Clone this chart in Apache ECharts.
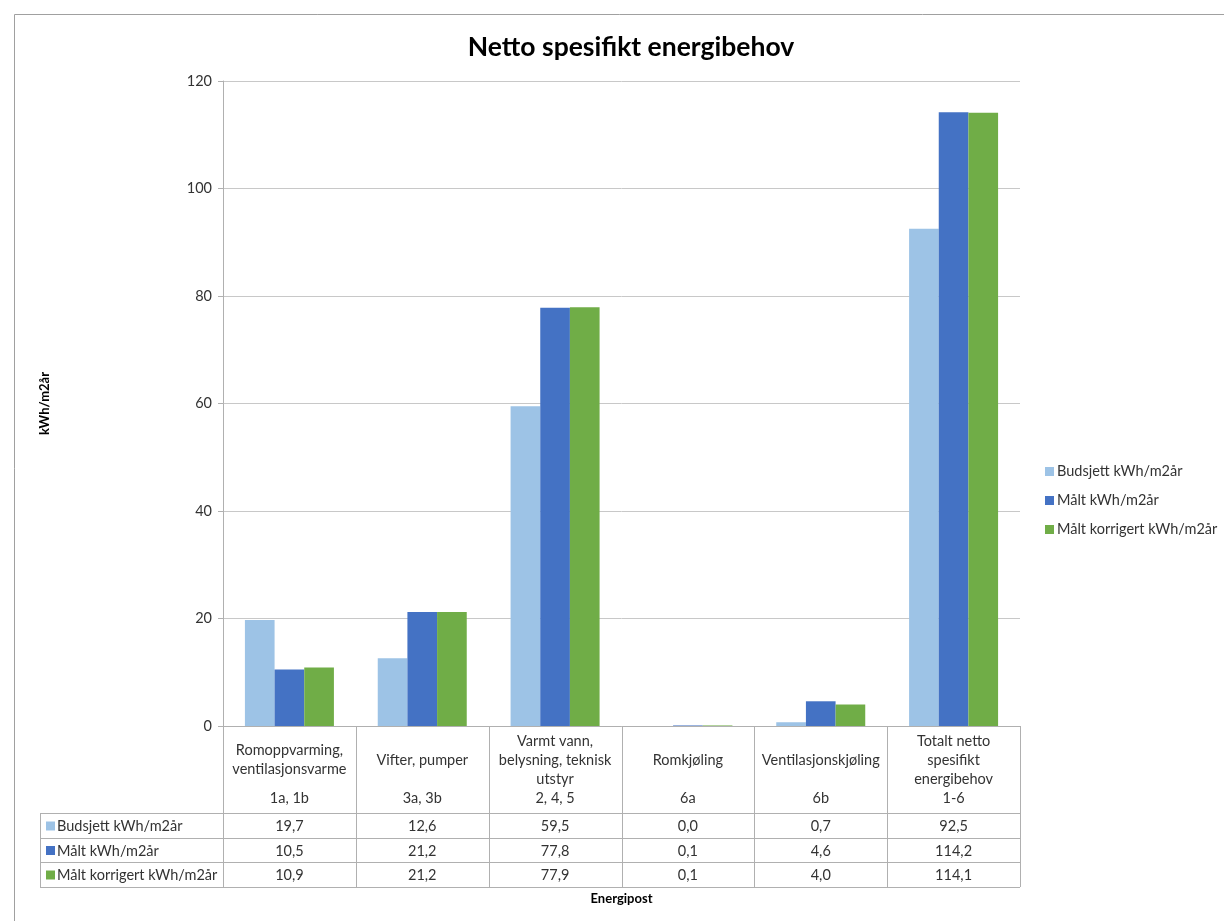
<!DOCTYPE html>
<html>
<head>
<meta charset="utf-8">
<script src="https://cdn.jsdelivr.net/npm/echarts@6/dist/echarts.min.js"></script>
<style>
  html, body { margin: 0; padding: 0; background: #fff; }
  #chart { width: 1224px; height: 921px; }
</style>
</head>
<body>
<div id="chart"></div>
<script>
// data
var categories = ['Romoppvarming,\nventilasjonsvarme', 'Vifter, pumper', 'Varmt vann,\nbelysning, teknisk\nutstyr', 'Romkjøling', 'Ventilasjonskjøling', 'Totalt netto\nspesifikt\nenergibehov'];
var codes = ['1a, 1b', '3a, 3b', '2, 4, 5', '6a', '6b', '1-6'];
var seriesNames = ['Budsjett kWh/m2år', 'Målt kWh/m2år', 'Målt korrigert kWh/m2år'];
var budsjett = [19.7, 12.6, 59.5, 0.0, 0.7, 92.5];
var maalt = [10.5, 21.2, 77.8, 0.1, 4.6, 114.2];
var korrigert = [10.9, 21.2, 77.9, 0.1, 4.0, 114.1];
var yTicks = { min: 0, max: 120, interval: 20 };

var colors = ['#9DC3E6', '#4472C4', '#70AD47'];
var FONT = 'Lato';
var FS = 14.5;
var lineColor = '#b0b0b0';

var chart = echarts.init(document.getElementById('chart'));

function fmt(v) {
  return v.toFixed(1).replace('.', ',');
}

var allSeries = [budsjett, maalt, korrigert];

chart.setOption({
  animation: false,
  color: colors,
  title: {
    text: 'Netto spesifikt energibehov',
    left: 626,
    textAlign: 'center',
    top: 29,
    textStyle: { fontFamily: FONT, fontSize: 26.5, fontWeight: 'bold', color: '#000' }
  },
  legend: {
    orient: 'vertical',
    left: 1040,
    top: 459,
    icon: 'rect',
    itemWidth: 9,
    itemHeight: 9,
    itemGap: 14,
    textStyle: { fontFamily: FONT, fontSize: FS, color: '#333', padding: [0, 0, 0, -2] },
    data: seriesNames
  },
  grid: { left: 223, right: 204, top: 81, bottom: 195, containLabel: false },
  xAxis: {
    type: 'category',
    data: categories,
    axisLine: { show: true, lineStyle: { color: lineColor } },
    axisTick: { show: false },
    axisLabel: { show: false },
    name: 'Energipost',
    nameLocation: 'middle',
    nameGap: 166,
    nameTextStyle: { fontFamily: FONT, fontSize: 13, fontWeight: 'bold', color: '#000' }
  },
  yAxis: {
    type: 'value',
    min: yTicks.min,
    max: yTicks.max,
    interval: yTicks.interval,
    axisLine: { show: true, lineStyle: { color: lineColor } },
    axisTick: { show: true, length: 5, lineStyle: { color: lineColor } },
    axisLabel: { fontFamily: FONT, fontSize: FS, color: '#333', margin: 11 },
    splitLine: { lineStyle: { color: '#c8c8c8' } },
    name: 'kWh/m2år',
    nameLocation: 'middle',
    nameGap: 172,
    nameTextStyle: { fontFamily: FONT, fontSize: 13, fontWeight: 'bold', color: '#000' }
  },
  series: seriesNames.map(function (n, i) {
    return {
      name: n,
      type: 'bar',
      data: allSeries[i],
      barGap: 0,
      barCategoryGap: '33%',
      itemStyle: { color: colors[i] }
    };
  })
});

// data table under the chart, placed from the category axis
var step = chart.convertToPixel({ xAxisIndex: 0 }, 1) - chart.convertToPixel({ xAxisIndex: 0 }, 0);
var x0 = chart.convertToPixel({ xAxisIndex: 0 }, 0) - step / 2;
var xEnd = x0 + step * categories.length;
var yAxis0 = chart.convertToPixel({ yAxisIndex: 0 }, 0);
var tableLeft = 40;
var rowTops = [813, 838, 862, 887];

var g = [];
// outer frame
g.push({ type: 'rect', shape: { x: 14.5, y: 14.5, width: 1230, height: 930 }, style: { fill: null, stroke: '#a0a0a0', lineWidth: 1 }, silent: true });
// horizontal table lines
rowTops.forEach(function (y) {
  g.push({ type: 'line', shape: { x1: tableLeft, y1: y + 0.5, x2: xEnd, y2: y + 0.5 }, style: { stroke: lineColor, lineWidth: 1 }, silent: true });
});
// left border of key column
g.push({ type: 'line', shape: { x1: tableLeft + 0.5, y1: rowTops[0], x2: tableLeft + 0.5, y2: rowTops[3] }, style: { stroke: lineColor, lineWidth: 1 }, silent: true });
// vertical column lines
for (var i = 0; i <= categories.length; i++) {
  var xx = Math.round(x0 + step * i) + 0.5;
  g.push({ type: 'line', shape: { x1: xx, y1: yAxis0, x2: xx, y2: rowTops[3] }, style: { stroke: lineColor, lineWidth: 1 }, silent: true });
}
// category names and codes
categories.forEach(function (c, i) {
  var cx = x0 + step * (i + 0.5);
  g.push({ type: 'text', x: cx, y: 760, style: { text: c, fontFamily: FONT, fontSize: FS, fill: '#333', align: 'center', verticalAlign: 'middle', lineHeight: 19 }, silent: true });
  g.push({ type: 'text', x: cx, y: 798, style: { text: codes[i], fontFamily: FONT, fontSize: FS, fill: '#333', align: 'center', verticalAlign: 'middle' }, silent: true });
});
// value rows
seriesNames.forEach(function (n, r) {
  var cy = (rowTops[r] + rowTops[r + 1]) / 2 + 1;
  g.push({ type: 'rect', shape: { x: 46, y: cy - 5, width: 9, height: 9 }, style: { fill: colors[r] }, silent: true });
  g.push({ type: 'text', x: 57, y: cy, style: { text: n, fontFamily: FONT, fontSize: FS, fill: '#333', align: 'left', verticalAlign: 'middle' }, silent: true });
  allSeries[r].forEach(function (v, i) {
    g.push({ type: 'text', x: x0 + step * (i + 0.5), y: cy, style: { text: fmt(v), fontFamily: FONT, fontSize: FS, fill: '#333', align: 'center', verticalAlign: 'middle' }, silent: true });
  });
});

chart.setOption({ graphic: g });
</script>
</body>
</html>
